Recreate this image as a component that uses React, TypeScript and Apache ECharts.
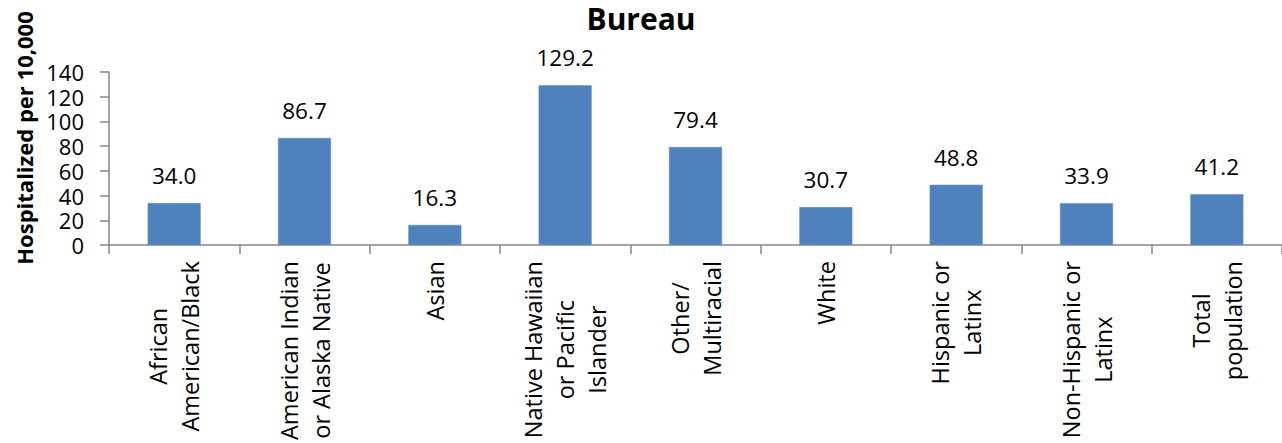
import React, { useEffect, useRef } from "react";
import * as echarts from "echarts";

const categories: string[] = [
  "African\nAmerican/Black",
  "American Indian\nor Alaska Native",
  "Asian",
  "Native Hawaiian\nor Pacific\nIslander",
  "Other/\nMultiracial",
  "White",
  "Hispanic or\nLatinx",
  "Non-Hispanic or\nLatinx",
  "Total\npopulation",
];
const values: number[] = [34.0, 86.7, 16.3, 129.2, 79.4, 30.7, 48.8, 33.9, 41.2];
const yTicks = { min: 0, max: 140, interval: 20 };
const titleText = "Bureau";
const yAxisTitle = "Hospitalized per 10,000";

const FONT = "'Open Sans', 'Noto Sans', sans-serif";
const AXIS_COLOR = "#868686";

export default function App() {
  const ref = useRef<HTMLDivElement>(null);
  useEffect(() => {
    if (!ref.current) return;
    const chart = echarts.init(ref.current, undefined, { renderer: "svg" });
    chart.setOption({
      animation: false,
      textStyle: { fontFamily: FONT },
      title: {
        text: titleText,
        left: "center",
        top: 0,
        padding: [3, 5, 5, 5],
        textStyle: { fontFamily: FONT, fontWeight: "bold", fontSize: 30, color: "#000" },
      },
      graphic: [
        {
          type: "text",
          x: 24,
          y: 138,
          rotation: Math.PI / 2,
          style: {
            text: yAxisTitle,
            fontFamily: FONT,
            fontWeight: "bold",
            fontSize: 22,
            fill: "#000",
            align: "center",
            verticalAlign: "middle",
          },
        },
      ],
      grid: { left: 109, right: 0, top: 72, bottom: 196, containLabel: false },
      xAxis: {
        type: "category",
        data: categories,
        boundaryGap: true,
        axisLine: { show: true, lineStyle: { color: AXIS_COLOR, width: 1.5 } },
        axisTick: { show: true, alignWithLabel: false, length: 9, lineStyle: { color: AXIS_COLOR, width: 1.5 } },
        axisLabel: {
          rotate: 90,
          interval: 0,
          margin: 16,
          color: "#000",
          fontSize: 23.5,
          fontFamily: FONT,
          lineHeight: 32,
          formatter: (v: string) =>
            v
              .split("\n")
              .map((s) => "{c|" + s + "}")
              .join("\n"),
          rich: {
            c: { align: "center", fontSize: 23.5, fontFamily: FONT, lineHeight: 32, color: "#000" },
          },
        },
      },
      yAxis: {
        type: "value",
        min: yTicks.min,
        max: yTicks.max,
        interval: yTicks.interval,
        splitLine: { show: false },
        axisLine: { show: true, lineStyle: { color: AXIS_COLOR, width: 1.5 } },
        axisTick: { show: true, inside: false, length: 9, lineStyle: { color: AXIS_COLOR, width: 1.5 } },
        axisLabel: { color: "#000", fontSize: 22, lineHeight: 22, fontFamily: FONT, margin: 25 },
      },
      series: [
        {
          type: "bar",
          data: values,
          barWidth: 53,
          itemStyle: { color: "#4F81BD", borderColor: "#5B8CC6", borderWidth: 0.5 },
          label: {
            show: true,
            position: "top",
            distance: 16,
            color: "#000",
            fontSize: 22.5,
            fontFamily: FONT,
            formatter: (p: any) => Number(p.value).toFixed(1),
          },
        },
      ],
    });
    return () => chart.dispose();
  }, []);
  return (
    <div
      ref={ref}
      style={{ position: "fixed", left: 0, top: 0, width: 1282, height: 443, background: "#fff" }}
    />
  );
}
